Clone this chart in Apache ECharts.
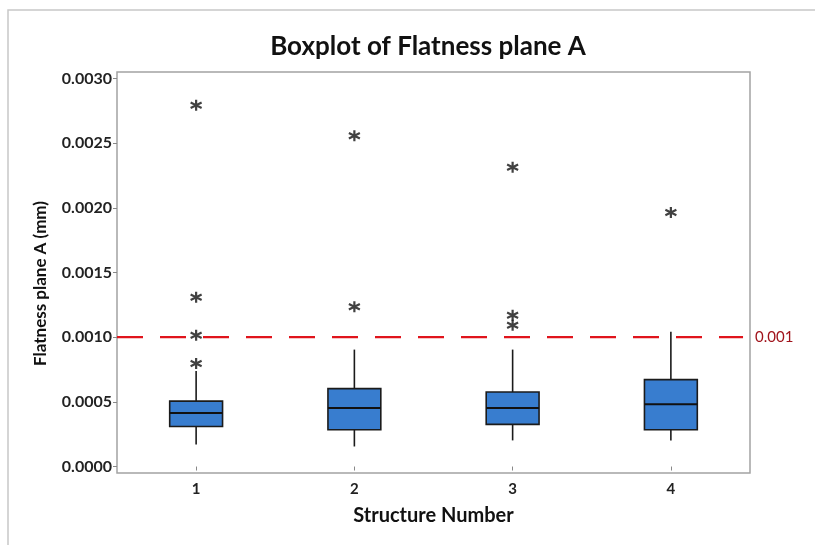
<!DOCTYPE html>
<html><head><meta charset="utf-8">
<script src="https://cdn.jsdelivr.net/npm/echarts@6/dist/echarts.min.js"></script>
<style>html,body{margin:0;padding:0;background:#fff}#c{width:815px;height:545px}</style>
</head><body><div id="c"></div>
<script>
const categories = ['1','2','3','4'];
// [lowerWhisker, Q1, median, Q3, upperWhisker]
const boxStats = [
  [0.000170, 0.000310, 0.000413, 0.000506, 0.000739],
  [0.000155, 0.000284, 0.000452, 0.000602, 0.000904],
  [0.000202, 0.000326, 0.000452, 0.000576, 0.000904],
  [0.000202, 0.000284, 0.000481, 0.000672, 0.001041]
];
const outliers = [
  [0, 0.000796], [0, 0.001015], [0, 0.001308], [0, 0.002793],
  [1, 0.001235], [1, 0.002558],
  [2, 0.001093], [2, 0.001170], [2, 0.002313],
  [3, 0.001964]
];
const yTicks = [0, 0.0005, 0.0010, 0.0015, 0.0020, 0.0025, 0.0030];
const refValue = 0.001;
const refLabel = '0.001';

const FONT = 'Lato';
const chart = echarts.init(document.getElementById('c'));
chart.setOption({
  animation: false,
  backgroundColor: '#fff',
  title: {
    text: 'Boxplot of Flatness plane A', left: 423, top: 29, textAlign: 'center',
    textStyle: {fontFamily: FONT, fontWeight: 'bold', fontSize: 26, color: '#111'}
  },
  graphic: [{
    type: 'polyline', silent: true,
    shape: {points: [[8, 545], [8, 10], [815, 10]]},
    style: {stroke: '#c8c8c8', lineWidth: 1.5, fill: null}
  }],
  grid: {left: 117, right: 65, top: 72, bottom: 72, show: true, borderColor: '#a3a3a3', borderWidth: 1.5, backgroundColor: '#fff'},
  xAxis: [{
    type: 'category', data: categories,
    name: 'Structure Number', nameLocation: 'middle', nameGap: 33,
    nameTextStyle: {fontFamily: FONT, fontWeight: 'bold', fontSize: 20, color: '#111'},
    axisLine: {show: false},
    axisTick: {show: true, alignWithLabel: true, length: 4, lineStyle: {color: '#888'}},
    axisLabel: {fontFamily: FONT, fontWeight: 'bold', fontSize: 15, color: '#222', margin: 9},
    splitLine: {show: false}
  }, {
    type: 'value', min: 0, max: 1, show: false, position: 'top'
  }],
  yAxis: {
    type: 'value', min: -0.00005, max: 0.00305,
    name: 'Flatness plane A (mm)', nameLocation: 'middle', nameGap: 68, nameRotate: 90,
    nameTextStyle: {fontFamily: FONT, fontWeight: 'bold', fontSize: 17, color: '#111', padding: [0, 22, 0, 0]},
    axisLine: {show: false},
    axisTick: {show: true, length: 4, customValues: yTicks, lineStyle: {color: '#888'}},
    axisLabel: {customValues: yTicks, formatter: v => v.toFixed(4), fontFamily: FONT, fontWeight: 'bold', fontSize: 16, color: '#222', margin: 5},
    splitLine: {show: false}
  },
  series: [{
    type: 'line',
    xAxisIndex: 1,
    data: [[0, refValue], [0.989, refValue]],
    symbol: 'none', silent: true, z: 2,
    lineStyle: {color: '#e0141c', type: [26, 17], width: 2.2},
    endLabel: {show: true, formatter: refLabel, color: '#a0141c', fontFamily: FONT, fontSize: 15, distance: 12}
  }, {
    type: 'custom',
    data: boxStats.map((s, i) => [i].concat(s)),
    encode: {x: 0, y: [1, 2, 3, 4, 5]},
    z: 3,
    renderItem: function (params, api) {
      const idx = api.value(0);
      const halfW = api.size([1, 0])[0] * 0.167;
      const p = k => api.coord([idx, api.value(k)]);
      const lo = p(1), q1 = p(2), md = p(3), q3 = p(4), hi = p(5);
      const cx = lo[0];
      const ls = {stroke: '#1b1b1b', lineWidth: 1.6};
      return {type: 'group', children: [
        {type: 'line', shape: {x1: cx, y1: lo[1], x2: cx, y2: q1[1]}, style: ls},
        {type: 'line', shape: {x1: cx, y1: q3[1], x2: cx, y2: hi[1]}, style: ls},
        {type: 'rect', shape: {x: cx - halfW, y: q3[1], width: halfW * 2, height: q1[1] - q3[1]},
          style: {fill: '#387dcf', stroke: '#1b1b1b', lineWidth: 1.6}},
        {type: 'line', shape: {x1: cx - halfW, y1: md[1], x2: cx + halfW, y2: md[1]}, style: {stroke: '#111', lineWidth: 2}}
      ]};
    }
  }, {
    type: 'scatter',
    data: outliers,
    z: 4,
    symbol: 'path://M0,-10L0,10M-8.66,-5L8.66,5M-8.66,5L8.66,-5',
    symbolSize: 11,
    itemStyle: {color: 'rgba(0,0,0,0)', borderColor: '#111', borderWidth: 2.2}
  }]
});
</script></body></html>
